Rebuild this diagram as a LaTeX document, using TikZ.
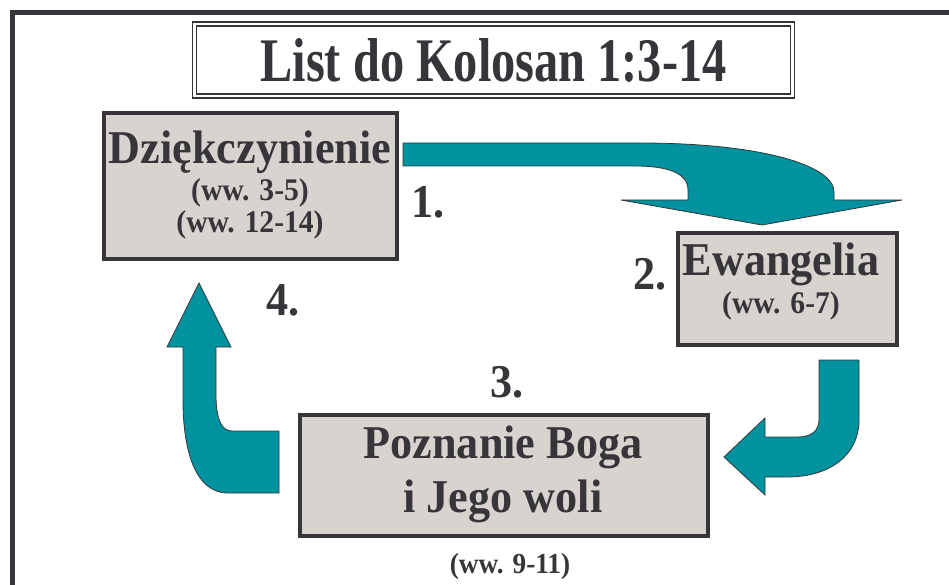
\documentclass[tikz,border=0pt]{standalone}
\usepackage{fontspec}
\setmainfont{Liberation Serif}
\newfontfamily\titlefont[FakeStretch=0.78]{Liberation Serif}
\newfontfamily\labelfont[FakeStretch=0.94]{Liberation Serif}
\usepackage{tikz}
\usetikzlibrary{positioning}

\definecolor{inkgray}{HTML}{35353A}
\definecolor{boxfill}{HTML}{D9D3D0}
\definecolor{tealarr}{HTML}{00929E}

\begin{document}
\begin{tikzpicture}[
    x=1pt, y=-1pt,
    frame/.style={draw=inkgray, line width=5pt},
    Btitle/.style={rectangle, draw=inkgray, line width=1.6pt, double=white,
                   double distance=2.2pt, inner sep=0pt, text=inkgray,
                   font=\titlefont\fontsize{62}{66}\selectfont\bfseries},
    Bbox/.style={rectangle, draw=inkgray, line width=4.5pt, fill=boxfill, inner sep=0pt},
    big/.style={anchor=base, inner sep=0pt, text=inkgray,
                font=\labelfont\fontsize{47}{50}\selectfont\bfseries},
    small/.style={anchor=base, inner sep=0pt, text=inkgray,
                  font=\labelfont\fontsize{31.5}{34}\selectfont\bfseries},
    num/.style={anchor=base, inner sep=0pt, text=inkgray,
                font=\labelfont\fontsize{47}{50}\selectfont\bfseries},
    arr/.style={fill=tealarr, draw=inkgray, line width=0.8pt, line join=miter},
]
\useasboundingbox (0,0) rectangle (949,585);

% outer frame
\draw[frame] (12.5,600) -- (12.5,12.5) -- (960,12.5);

% title
\node[Btitle, minimum width=598, minimum height=72] (title) at (493.5,60)
    {List do Kolosan 1:3-14};

% boxes
\node[Bbox, minimum width=293, minimum height=146] (dzie) at (250.5,186) {};
\node[Bbox, minimum width=219, minimum height=112] (ewan) at (787.5,289) {};
\node[Bbox, minimum width=408, minimum height=121] (pozn) at (504,475.5) {};

% arrows
\draw[arr] (403,143) -- (640,143) .. controls (760,143) and (834,165) .. (834,192)
    -- (834,200) -- (902,200) -- (762,225) -- (621,200) -- (688,200) -- (688,190)
    .. controls (688,172) and (665,166) .. (635,166) -- (403,166) -- cycle;
\draw[arr] (819,360) -- (859,360) -- (859,420) .. controls (859,455) and (830,477) .. (787,477)
    -- (765,477) -- (765,495) -- (724,457) -- (765,418) -- (765,437) -- (798,437)
    .. controls (812,437) and (819,430) .. (819,420) -- cycle;
\draw[arr] (199,283) -- (231,347) -- (216,347) -- (216,395)
    .. controls (216,420) and (222,431) .. (232,431) -- (279,431) -- (279,493)
    -- (228,493) .. controls (195,493) and (183,450) .. (183,400) -- (183,347)
    -- (167,347) -- cycle;

% texts
\node[big] (dzieT) at (250,164) {Dziękczynienie};
\node[small] (dzieA) at (250,201) {(ww. 3-5)};
\node[small] (dzieB) at (250,233) {(ww. 12-14)};
\node[big] (ewanT) at (781,275) {Ewangelia};
\node[small] (ewanA) at (781,313) {(ww. 6-7)};
\node[big] (poznT) at (503,458) {Poznanie Boga};
\node[big] (poznU) at (503,512) {i Jego woli};
\node[small, font=\labelfont\fontsize{29}{32}\selectfont\bfseries] (poznA) at (510,573) {(ww. 9-11)};

% numbers
\node[num] (n1) at (428,218) {1.};
\node[num] (n2) at (650,289) {2.};
\node[num] (n3) at (507,397) {3.};
\node[num] (n4) at (283,315) {4.};
\end{tikzpicture}
\end{document}
